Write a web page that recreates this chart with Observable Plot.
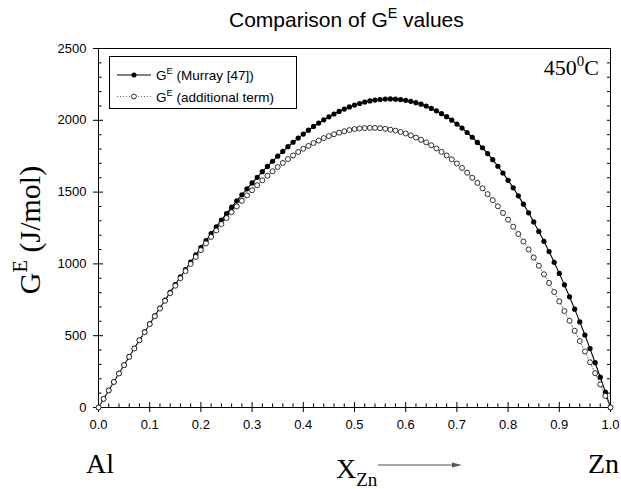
<!DOCTYPE html>
<html><head><meta charset="utf-8">
<script src="https://cdn.jsdelivr.net/npm/d3@7"></script>
<script src="https://cdn.jsdelivr.net/npm/@observablehq/plot@0.6"></script>
<style>
html,body{margin:0;padding:0;background:#fff;}
#chart svg{display:block;}
</style>
</head><body><div id="chart"></div>
<script>
// ---- data ----
const xZn = [0,0.01,0.02,0.03,0.04,0.05,0.06,0.07,0.08,0.09,
0.1,0.11,0.12,0.13,0.14,0.15,0.16,0.17,0.18,0.19,
0.2,0.21,0.22,0.23,0.24,0.25,0.26,0.27,0.28,0.29,
0.3,0.31,0.32,0.33,0.34,0.35,0.36,0.37,0.38,0.39,
0.4,0.41,0.42,0.43,0.44,0.45,0.46,0.47,0.48,0.49,
0.5,0.51,0.52,0.53,0.54,0.55,0.56,0.57,0.58,0.59,
0.6,0.61,0.62,0.63,0.64,0.65,0.66,0.67,0.68,0.69,
0.7,0.71,0.72,0.73,0.74,0.75,0.76,0.77,0.78,0.79,
0.8,0.81,0.82,0.83,0.84,0.85,0.86,0.87,0.88,0.89,
0.9,0.91,0.92,0.93,0.94,0.95,0.96,0.97,0.98,0.99,1];
const gMurray = [0,60,119,178,237,296,354,412,469,526,
582,638,693,748,802,856,909,961,1013,1063,
1113,1162,1211,1258,1305,1350,1395,1439,1481,1523,
1564,1603,1642,1679,1715,1750,1783,1816,1847,1876,
1904,1931,1957,1981,2003,2024,2044,2062,2078,2093,
2106,2117,2127,2135,2141,2145,2148,2149,2147,2144,
2139,2132,2123,2112,2099,2083,2066,2046,2025,2001,
1974,1946,1915,1882,1846,1809,1768,1726,1680,1633,
1582,1530,1474,1416,1356,1292,1226,1157,1086,1011,
934,854,771,685,596,505,410,312,211,107,0];
const gAdditional = [0,60,119,178,237,295,353,411,468,524,
580,635,689,743,796,848,900,950,1000,1048,
1096,1143,1188,1233,1277,1319,1360,1400,1439,1477,
1513,1548,1582,1614,1645,1675,1703,1730,1755,1779,
1802,1822,1842,1859,1876,1890,1903,1914,1924,1932,
1939,1943,1946,1947,1947,1945,1941,1935,1928,1919,
1908,1895,1880,1864,1846,1826,1804,1780,1755,1728,
1699,1668,1635,1600,1564,1526,1486,1444,1401,1355,
1308,1259,1208,1156,1101,1045,987,928,867,804,
739,672,604,534,463,390,315,239,161,81,0];
const xTicks = [0,0.1,0.2,0.3,0.4,0.5,0.6,0.7,0.8,0.9,1];
const xMinorTicks = [0.02,0.04,0.06,0.08,0.12,0.14,0.16,0.18,0.22,0.24,0.26,0.28,0.32,0.34,0.36,0.38,0.42,0.44,0.46,0.48,0.52,0.54,0.56,0.58,0.62,0.64,0.66,0.68,0.72,0.74,0.76,0.78,0.82,0.84,0.86,0.88,0.92,0.94,0.96,0.98];
const yTicks = [0,500,1000,1500,2000,2500];
const yMinorTicks = [100,200,300,400,600,700,800,900,1100,1200,1300,1400,1600,1700,1800,1900,2100,2200,2300,2400];
const titleText = ["Comparison of G", "E", " values"];
const legendLabels = [["G", "E", " (Murray [47])"], ["G", "E", " (additional term)"]];

const murray = xZn.map((x, i) => ({x, g: gMurray[i]}));
const additional = xZn.map((x, i) => ({x, g: gAdditional[i]}));

const plot = Plot.plot({
  width: 621, height: 489,
  marginLeft: 98, marginRight: 11, marginTop: 48, marginBottom: 82,
  style: {fontFamily: "'Liberation Sans', Arial, sans-serif", fontSize: "13px", color: "#000", background: "#fff"},
  x: {domain: [0, 1], label: null},
  y: {domain: [0, 2500], label: null},
  marks: [
    Plot.axisX(xTicks, {tickSize: 0, tickPadding: 12, tickFormat: d => d.toFixed(1), fontSize: 13, label: null}),
    Plot.axisY(yTicks, {tickSize: 0, tickPadding: 12, tickFormat: d => String(d), fontSize: 13, label: null}),
    Plot.ruleX(xMinorTicks, {x: d => d, y1: 0, y2: 25, stroke: "#000"}),
    Plot.ruleX(xTicks, {x: d => d, y1: -35, y2: 35, stroke: "#000"}),
    Plot.ruleY(yMinorTicks, {y: d => d, x1: 0, x2: 0.007, stroke: "#000"}),
    Plot.ruleY(yTicks, {y: d => d, x1: -0.0098, x2: 0.0098, stroke: "#000"}),
    Plot.ruleY(yMinorTicks.concat(yTicks), {y: d => d, x1: 0.994, x2: 1, stroke: "#000"}),
    Plot.frame({stroke: "#000"}),
    Plot.line(murray, {x: "x", y: "g", stroke: "#000", strokeWidth: 1.1}),
    Plot.dot(murray, {x: "x", y: "g", r: 2.6, fill: "#000", stroke: "none"}),
    Plot.line(additional, {x: "x", y: "g", stroke: "#666", strokeWidth: 1, strokeDasharray: "1,2"}),
    Plot.dot(additional, {x: "x", y: "g", r: 2.5, fill: "#fff", stroke: "#000", strokeWidth: 0.8})
  ]
});
document.getElementById("chart").appendChild(plot);

const svg = d3.select(plot);
const SANS = "'Liberation Sans', Arial, sans-serif";
const SERIF = "'Liberation Serif', 'Times New Roman', serif";

function richText(g, x, y, size, family, parts, kinds, opts = {}) {
  const t = g.append("text").attr("x", x).attr("y", y)
    .attr("font-family", family).attr("font-size", size).attr("fill", "#000")
    .attr("text-anchor", opts.anchor || "start");
  if (opts.rotate) t.attr("transform", `rotate(${opts.rotate},${x},${y})`);
  let shift = 0;
  parts.forEach((p, i) => {
    const k = kinds[i];
    const ts = t.append("tspan").text(p);
    let target = 0, fs = size;
    if (k === "sup") { target = -0.42 * size; fs = size * 0.68; }
    if (k === "sub") { target = 0.28 * size; fs = size * 0.68; }
    ts.attr("font-size", fs).attr("dy", target - shift);
    shift = target;
  });
  return t;
}

const ann = svg.append("g");
// title
richText(ann, 229, 27, 21, SANS, titleText, ["n", "sup", "n"]);
// y axis label
richText(ann, 40, 230, 30, SERIF, ["G", "E", " (J/mol)"], ["n", "sup", "n"], {anchor: "middle", rotate: -90});
// 450 °C
richText(ann, 599, 75, 22, SERIF, ["450", "0", "C"], ["n", "sup", "n"], {anchor: "end"});
// Al / Zn
richText(ann, 86, 473, 28, SERIF, ["Al"], ["n"]);
richText(ann, 588, 473, 28, SERIF, ["Zn"], ["n"]);
// X_Zn with arrow
richText(ann, 336, 478, 28, SERIF, ["X", "Zn"], ["n", "sub"]);
ann.append("line").attr("x1", 378).attr("y1", 465).attr("x2", 458).attr("y2", 465)
  .attr("stroke", "#555").attr("stroke-width", 1);
ann.append("path").attr("d", "M462,465 L452,462.5 L452,467.5 Z").attr("fill", "#555");

// legend
const lg = svg.append("g");
lg.append("rect").attr("x", 109.5).attr("y", 56.5).attr("width", 187).attr("height", 52)
  .attr("fill", "#fff").attr("stroke", "#000").attr("stroke-width", 1);
const rows = [
  {y: 75, solid: true},
  {y: 96.5, solid: false}
];
rows.forEach((r, i) => {
  const ln = lg.append("line").attr("x1", 117).attr("x2", 151).attr("y1", r.y).attr("y2", r.y);
  if (r.solid) {
    ln.attr("stroke", "#000").attr("stroke-width", 1);
    lg.append("circle").attr("cx", 134).attr("cy", r.y).attr("r", 2.5).attr("fill", "#000");
  } else {
    ln.attr("stroke", "#666").attr("stroke-width", 1).attr("stroke-dasharray", "1,2");
    lg.append("circle").attr("cx", 134).attr("cy", r.y).attr("r", 2.4).attr("fill", "#fff")
      .attr("stroke", "#000").attr("stroke-width", 0.8);
  }
  richText(lg, 156, r.y + 5, 13.5, SANS, legendLabels[i], ["n", "sup", "n"]);
});
</script>
</body></html>
